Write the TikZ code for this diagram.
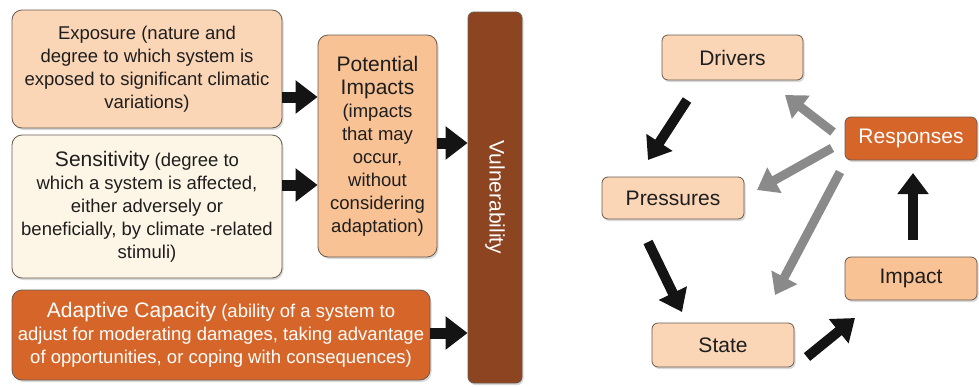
\documentclass[tikz,border=0pt]{standalone}
\usepackage{fontspec}
\setmainfont{Liberation Sans}
\usetikzlibrary{arrows.meta,shadows,calc}
\definecolor{peach}{HTML}{FAD5B6}
\definecolor{peachdk}{HTML}{F8C294}
\definecolor{cream}{HTML}{FDF6E6}
\definecolor{rust}{HTML}{D6652A}
\definecolor{brownv}{HTML}{8C4421}
\definecolor{edgec}{HTML}{6A5A50}
\definecolor{txt}{HTML}{1E1E1E}
\definecolor{grayarr}{HTML}{8A8A8A}
\newcommand\bigfs{\fontsize{21}{23}\selectfont}
\begin{document}
\begin{tikzpicture}[x=1pt,y=-1pt,
  box/.style={draw=edgec,line width=0.8pt,rounded corners=10pt,align=center,inner sep=0pt,
     text=txt,font=\fontsize{18.5}{23}\selectfont,
     drop shadow={shadow xshift=1.5pt,shadow yshift=-2pt,opacity=0.3}},
  sbox/.style={box,rounded corners=6pt,font=\fontsize{21}{23}\selectfont},
  blk/.style={line width=11pt,draw=black!92,-{Triangle[length=22pt,width=32pt]}},
  rblk/.style={line width=10pt,draw=black!92,-{Triangle[length=21pt,width=30pt]}},
  gry/.style={line width=9pt,draw=grayarr,-{Triangle[length=20pt,width=28pt]}}
]
\useasboundingbox (0,0) rectangle (979,386);
% left part
\node[box,fill=peach,minimum width=270pt,minimum height=118pt] (expo) at (147,69)
  {Exposure (nature and\\degree to which system is\\exposed to significant climatic\\variations)};
\node[box,fill=cream,minimum width=270pt,minimum height=143pt] (sens) at (147,206.5)
  {{\bigfs Sensitivity} (degree to\\which a system is affected,\\either adversely or\\beneficially, by climate -related\\stimuli)};
\node[box,fill=rust,text=white,minimum width=418pt,minimum height=90pt] (adapt) at (221,335)
  {{\bigfs Adaptive Capacity} (ability of a system to\\adjust for moderating damages, taking advantage\\of opportunities, or coping with consequences)};
\node[box,fill=peachdk,minimum width=119pt,minimum height=222pt] (pot) at (377.5,146)
  {{\bigfs Potential}\\{\bigfs Impacts}\\(impacts\\that may\\occur,\\without\\considering\\adaptation)};
\node[box,fill=brownv,rounded corners=6pt,minimum width=54pt,minimum height=371pt] (vul) at (495,197.5) {};
\node[text=white,rotate=-90,font=\bigfs] (vult) at (vul.center) {Vulnerability};
\draw[blk] (expo.east |- 0,97) -- (pot.west |- 0,97);
\draw[blk] (sens.east |- 0,185) -- (pot.west |- 0,185);
\draw[blk] (pot.east |- 0,143) -- (vul.west |- 0,143);
\draw[blk] (adapt.east |- 0,333) -- (vul.west |- 0,333);
% right part
\node[sbox,fill=peach,minimum width=141pt,minimum height=45pt] (drv) at (732.5,57.5) {Drivers};
\node[sbox,fill=rust,text=white,minimum width=132pt,minimum height=43pt] (resp) at (911,138.5) {Responses};
\node[sbox,fill=peach,minimum width=142pt,minimum height=42pt] (pres) at (673,198) {Pressures};
\node[sbox,fill=peachdk,minimum width=132pt,minimum height=43pt] (imp) at (911,278.5) {Impact};
\node[sbox,fill=peach,minimum width=142pt,minimum height=44pt] (state) at (723,345) {State};
\coordinate (dp1) at (687,100); \coordinate (dp2) at (648,160);
\coordinate (ps1) at (648,242); \coordinate (ps2) at (682,312);
\coordinate (si1) at (807,357); \coordinate (si2) at (855,318);
\coordinate (ir1) at (913,240); \coordinate (ir2) at (913,173);
\coordinate (rd1) at (833,132); \coordinate (rd2) at (785,95);
\coordinate (rp1) at (832,148); \coordinate (rp2) at (757,190);
\coordinate (rs1) at (840,172); \coordinate (rs2) at (775,295);
\draw[rblk] (dp1) -- (dp2);
\draw[rblk] (ps1) -- (ps2);
\draw[rblk] (si1) -- (si2);
\draw[rblk] (ir1) -- (ir2);
\draw[gry] (rd1) -- (rd2);
\draw[gry] (rp1) -- (rp2);
\draw[gry] (rs1) -- (rs2);
\end{tikzpicture}
\end{document}
